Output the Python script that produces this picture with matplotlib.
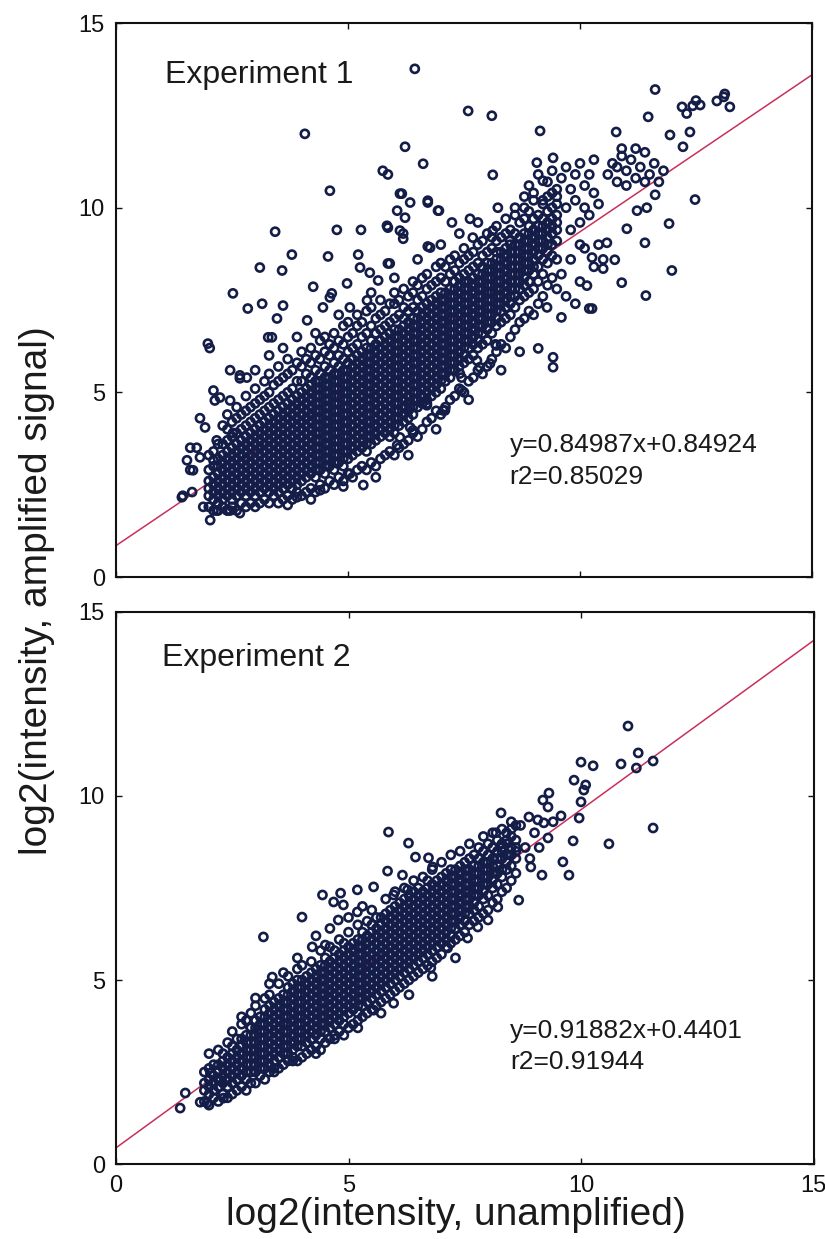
import matplotlib
matplotlib.use("Agg")
import matplotlib.pyplot as plt
import numpy as np

plt.rcParams['font.family'] = ['Liberation Sans', 'DejaVu Sans']

# fitted lines (values printed on the chart)
fit1 = (0.84987, 0.84924, 0.85029)
fit2 = (0.91882, 0.4401, 0.91944)
panel_titles = ["Experiment 1", "Experiment 2"]
ticks = [0, 5, 10, 15]

# experiment 1: dense core, one column per line -> "x: y y y ..."
exp1_core = """
2.0: 1.9 2.2 2.4 2.6 2.9 3.3
2.1: 1.8 2.1 2.3 2.5 2.7 3.0 3.4
2.2: 1.8 2.0 2.2 2.4 2.6 2.8 3.0 3.2 3.6
2.3: 1.9 2.1 2.3 2.5 2.7 2.9 3.1 3.3 3.6 4.1
2.4: 1.8 2.2 2.4 2.6 2.8 3.0 3.2 3.4 3.7 4.0 4.4
2.5: 1.9 2.1 2.3 2.5 2.7 2.9 3.1 3.3 3.5 3.8 4.2
2.6: 1.8 2.2 2.4 2.6 2.8 3.0 3.2 3.4 3.6 3.9 4.3 4.6
2.7: 2.0 2.3 2.5 2.7 2.9 3.1 3.3 3.5 3.7 4.0 4.4
2.8: 1.9 2.2 2.4 2.6 2.8 3.0 3.2 3.4 3.6 3.8 4.1 4.5 4.9
2.9: 2.0 2.3 2.5 2.7 2.9 3.1 3.3 3.5 3.7 3.9 4.2 4.6
3.0: 1.9 2.2 2.4 2.6 2.8 3.0 3.2 3.4 3.6 3.8 4.0 4.3 4.7 5.1
3.1: 2.0 2.3 2.5 2.7 2.9 3.1 3.3 3.5 3.7 3.9 4.1 4.4 4.8
3.2: 2.1 2.4 2.6 2.8 3.0 3.2 3.4 3.6 3.8 4.0 4.2 4.5 4.9 5.3
3.3: 2.0 2.3 2.5 2.7 2.9 3.1 3.3 3.5 3.7 3.9 4.1 4.3 4.6 5.0 5.5
3.4: 2.2 2.4 2.6 2.8 3.0 3.2 3.4 3.6 3.8 4.0 4.2 4.4 4.7 5.2
3.5: 2.0 2.3 2.5 2.7 2.9 3.1 3.3 3.5 3.7 3.9 4.1 4.3 4.5 4.8 5.3 5.7
3.6: 2.1 2.4 2.6 2.8 3.0 3.2 3.4 3.6 3.8 4.0 4.2 4.4 4.6 4.9 5.4
3.7: 2.2 2.5 2.7 2.9 3.1 3.3 3.5 3.7 3.9 4.1 4.3 4.5 4.7 5.0 5.5 5.9
3.8: 2.1 2.4 2.6 2.8 3.0 3.2 3.4 3.6 3.8 4.0 4.2 4.4 4.6 4.8 5.1 5.6
3.9: 2.3 2.5 2.7 2.9 3.1 3.3 3.5 3.7 3.9 4.1 4.3 4.5 4.7 4.9 5.3 5.8
4.0: 2.2 2.6 2.8 3.0 3.2 3.4 3.6 3.8 4.0 4.2 4.4 4.6 4.8 5.0 5.3 5.7 6.1
4.1: 2.3 2.7 2.9 3.1 3.3 3.5 3.7 3.9 4.1 4.3 4.5 4.7 4.9 5.1 5.5 5.9
4.2: 2.4 2.8 3.0 3.2 3.4 3.6 3.8 4.0 4.2 4.4 4.6 4.8 5.0 5.2 5.4 5.8 6.2
4.3: 2.3 2.7 2.9 3.1 3.3 3.5 3.7 3.9 4.1 4.3 4.5 4.7 4.9 5.1 5.3 5.6 6.0
4.4: 2.5 2.9 3.1 3.3 3.5 3.7 3.9 4.1 4.3 4.5 4.7 4.9 5.1 5.3 5.5 5.9 6.4
4.5: 2.4 2.8 3.0 3.2 3.4 3.6 3.8 4.0 4.2 4.4 4.6 4.8 5.0 5.2 5.4 5.7 6.1 6.5
4.6: 2.6 3.0 3.2 3.4 3.6 3.8 4.0 4.2 4.4 4.6 4.8 5.0 5.2 5.4 5.6 6.0 6.3
4.7: 2.5 2.9 3.1 3.3 3.5 3.7 3.9 4.1 4.3 4.5 4.7 4.9 5.1 5.3 5.5 5.8 6.2 6.6
4.8: 2.7 3.1 3.3 3.5 3.7 3.9 4.1 4.3 4.5 4.7 4.9 5.1 5.3 5.5 5.7 6.0 6.4
4.9: 2.6 3.0 3.2 3.4 3.6 3.8 4.0 4.2 4.4 4.6 4.8 5.0 5.2 5.4 5.6 5.9 6.3 6.8
5.0: 2.8 3.2 3.4 3.6 3.8 4.0 4.2 4.4 4.6 4.8 5.0 5.2 5.4 5.6 5.8 6.1 6.5 6.9
5.1: 2.7 3.3 3.5 3.7 3.9 4.1 4.3 4.5 4.7 4.9 5.1 5.3 5.5 5.7 5.9 6.2 6.6
5.2: 2.9 3.4 3.6 3.8 4.0 4.2 4.4 4.6 4.8 5.0 5.2 5.4 5.6 5.8 6.0 6.3 6.8 7.1
5.3: 3.0 3.5 3.7 3.9 4.1 4.3 4.5 4.7 4.9 5.1 5.3 5.5 5.7 5.9 6.1 6.5 6.9
5.4: 2.9 3.4 3.6 3.8 4.0 4.2 4.4 4.6 4.8 5.0 5.2 5.4 5.6 5.8 6.0 6.2 6.6 7.2
5.5: 3.1 3.6 3.8 4.0 4.2 4.4 4.6 4.8 5.0 5.2 5.4 5.6 5.8 6.0 6.2 6.4 6.8 7.3
5.6: 3.0 3.7 3.9 4.1 4.3 4.5 4.7 4.9 5.1 5.3 5.5 5.7 5.9 6.1 6.3 6.6 7.0
5.7: 3.2 3.8 4.0 4.2 4.4 4.6 4.8 5.0 5.2 5.4 5.6 5.8 6.0 6.2 6.4 6.7 7.1 7.5
5.8: 3.3 3.9 4.1 4.3 4.5 4.7 4.9 5.1 5.3 5.5 5.7 5.9 6.1 6.3 6.5 6.8 7.2
5.9: 3.4 3.8 4.0 4.2 4.4 4.6 4.8 5.0 5.2 5.4 5.6 5.8 6.0 6.2 6.4 6.6 6.9 7.4
6.0: 3.3 3.9 4.1 4.3 4.5 4.7 4.9 5.1 5.3 5.5 5.7 5.9 6.1 6.3 6.5 6.7 7.0 7.4 7.7
6.1: 3.5 4.1 4.3 4.5 4.7 4.9 5.1 5.3 5.5 5.7 5.9 6.1 6.3 6.5 6.7 7.1 7.5
6.2: 3.6 4.2 4.4 4.6 4.8 5.0 5.2 5.4 5.6 5.8 6.0 6.2 6.4 6.6 6.8 7.0 7.3 7.8
6.3: 3.7 4.3 4.5 4.7 4.9 5.1 5.3 5.5 5.7 5.9 6.1 6.3 6.5 6.7 6.9 7.2 7.6
6.4: 3.9 4.4 4.6 4.8 5.0 5.2 5.4 5.6 5.8 6.0 6.2 6.4 6.6 6.8 7.0 7.3 7.7 8.0
6.5: 3.8 4.6 4.8 5.0 5.2 5.4 5.6 5.8 6.0 6.2 6.4 6.6 6.8 7.0 7.2 7.5 7.9
6.6: 4.0 4.7 4.9 5.1 5.3 5.5 5.7 5.9 6.1 6.3 6.5 6.7 6.9 7.1 7.3 7.6 8.1
6.7: 4.2 4.8 5.0 5.2 5.4 5.6 5.8 6.0 6.2 6.4 6.6 6.8 7.0 7.2 7.4 7.8 8.2
6.8: 4.3 4.9 5.1 5.3 5.5 5.7 5.9 6.1 6.3 6.5 6.7 6.9 7.1 7.3 7.5 7.9
6.9: 4.5 5.0 5.2 5.4 5.6 5.8 6.0 6.2 6.4 6.6 6.8 7.0 7.2 7.4 7.6 8.0 8.4
7.0: 4.4 5.1 5.3 5.5 5.7 5.9 6.1 6.3 6.5 6.7 6.9 7.1 7.3 7.5 7.7 8.1 8.5
7.1: 4.6 5.3 5.5 5.7 5.9 6.1 6.3 6.5 6.7 6.9 7.1 7.3 7.5 7.7 8.0 8.4
7.2: 4.8 5.4 5.6 5.8 6.0 6.2 6.4 6.6 6.8 7.0 7.2 7.4 7.6 7.8 8.2 8.6
7.3: 4.9 5.6 5.8 6.0 6.2 6.4 6.6 6.8 7.0 7.2 7.4 7.6 7.8 8.0 8.3 8.7
7.4: 5.1 5.7 5.9 6.1 6.3 6.5 6.7 6.9 7.1 7.3 7.5 7.7 7.9 8.1 8.5
7.5: 5.0 5.8 6.0 6.2 6.4 6.6 6.8 7.0 7.2 7.4 7.6 7.8 8.0 8.2 8.6 8.9
7.6: 5.3 5.9 6.2 6.4 6.6 6.8 7.0 7.2 7.4 7.6 7.8 8.0 8.3 8.7
7.7: 5.4 6.0 6.3 6.5 6.7 6.9 7.1 7.3 7.5 7.7 7.9 8.1 8.4 8.8
7.8: 5.6 6.2 6.4 6.6 6.8 7.0 7.2 7.4 7.6 7.8 8.0 8.2 8.5 9.0
7.9: 5.5 6.3 6.6 6.8 7.0 7.2 7.4 7.6 7.8 8.0 8.2 8.4 8.7 9.1
8.0: 5.7 6.4 6.7 6.9 7.1 7.3 7.5 7.7 7.9 8.1 8.3 8.5 8.8 9.3
8.1: 5.9 6.6 6.9 7.1 7.3 7.5 7.7 7.9 8.1 8.3 8.5 8.9 9.2
8.2: 6.1 6.8 7.0 7.2 7.4 7.6 7.8 8.0 8.2 8.4 8.6 8.8 9.1 9.5
8.3: 6.3 6.9 7.2 7.4 7.6 7.8 8.0 8.2 8.4 8.6 8.8 9.2
8.4: 6.2 7.0 7.3 7.5 7.7 7.9 8.1 8.3 8.5 8.7 8.9 9.3 9.7
8.5: 6.5 7.1 7.4 7.6 7.8 8.0 8.2 8.4 8.6 8.8 9.0 9.4
8.6: 6.7 7.3 7.6 7.8 8.0 8.2 8.4 8.6 8.8 9.0 9.3 9.8
8.7: 6.9 7.5 7.8 8.0 8.2 8.4 8.6 8.8 9.0 9.2 9.6
8.8: 7.0 7.6 7.9 8.1 8.3 8.5 8.7 8.9 9.1 9.3 9.7 10.0
8.9: 7.2 7.7 8.0 8.3 8.5 8.7 8.9 9.1 9.3 9.5 9.9
9.0: 7.1 7.8 8.2 8.4 8.6 8.8 9.0 9.2 9.4 9.7 10.2
9.1: 7.4 8.0 8.4 8.7 8.9 9.1 9.3 9.5 9.8
9.2: 7.6 8.2 8.6 8.9 9.1 9.3 9.5 9.7 10.1
9.3: 7.9 8.5 8.8 9.0 9.2 9.4 9.6 9.9 10.3
9.4: 8.1 8.7 9.0 9.3 9.5 9.7 10.0 10.4
9.5: 7.8 8.6 9.1 9.4 9.6 9.8 10.1 10.5
"""

# experiment 1: scattered points around the core, "x,y" pairs
exp1_scatter = """
4.07,12.0 6.44,13.76 6.23,11.65 5.75,11.0 5.86,10.9 4.61,10.46 6.16,10.38 6.06,9.92
6.23,9.73 5.86,9.46 6.19,9.3 3.43,9.35 4.76,9.4 5.28,9.4 3.79,8.73 4.57,8.68
5.22,8.73 3.10,8.38 3.58,8.3 4.25,7.86 2.52,7.68 2.84,7.27 3.15,7.4 3.6,7.35
4.65,7.68 4.98,7.95 5.86,8.49 7.59,12.62 8.10,12.49 9.14,12.08 11.62,13.2 11.47,12.46
12.2,12.73 12.43,12.76 12.59,12.78 12.95,12.89 13.12,13.08 13.23,12.73 10.78,12.05 11.94,11.97
12.37,12.05 12.22,11.65 6.62,11.19 9.07,11.22 9.42,11.35 8.12,10.89 9.2,10.73 12.48,10.22
11.62,10.35 11.92,9.57 11.4,9.05 11.98,8.3 11.42,7.62 10.9,7.97 10.26,7.27 10.15,7.89
10.26,8.65 10.75,8.59 10.5,8.35 10.58,9.05 11.01,9.43 11.23,9.92 11.44,10.0 6.72,10.19
6.96,9.92 5.84,9.51 6.19,9.16 6.72,8.95 3.47,7.0 4.12,6.95 4.61,7.57 4.46,7.3
5.26,8.38 5.47,8.24 5.65,8.03 5.9,8.49 5.04,7.3 5.41,7.49 3.28,6.49 1.98,6.32
2.02,6.2 1.42,2.16 1.64,2.3 1.53,3.16 1.6,2.9 1.81,4.3 1.88,1.9 2.03,1.54
2.17,1.8 2.46,1.8 1.74,3.5 1.81,3.24 2.1,3.16 2.24,4.86 2.1,5.05 2.46,5.6
2.67,5.46 2.82,5.4 2.46,4.78 1.92,4.05 2.17,3.7 2.52,3.9 3.36,6.49 2.67,5.38
2.13,4.78 1.6,3.5 1.66,2.89 1.44,2.2 5.33,2.49 5.04,2.8 4.76,3.08 4.4,2.35
3.9,2.16 6.06,3.57 6.4,3.97 6.7,4.7 7.09,4.51 6.34,4.59 2.39,1.81 2.67,1.73
6.7,4.65 7.45,5.05 7.45,5.4 8.06,5.78 8.2,6.27 9.1,6.19 9.42,5.68 9.42,5.95
9.29,7.3 9.6,7.03 10.2,7.27 7.78,5.86 7.84,5.68 8.18,6.3 7.41,5.51 6.49,4.78
6.12,3.78 6.34,4.05 7.05,4.51 6.12,10.38 6.34,10.14 6.72,10.14 6.94,9.92 7.24,9.6
7.63,9.7 7.8,9.6 8.23,10.0 8.49,9.1 6.77,8.92 6.12,9.38 8.12,9.38 7.69,9.19
12.3,12.55 12.5,12.9 13.1,13.0 8.6,10.0 8.8,10.3 8.9,10.6 9.0,10.4 9.1,10.9
9.2,10.2 9.3,10.7 9.4,11.0 9.5,10.3 9.6,10.8 9.7,11.1 9.8,10.5 9.9,10.9
10.0,11.2 10.1,10.6 10.2,10.9 10.3,11.3 9.7,10.0 9.9,10.2 10.1,10.0 10.3,10.4
10.0,9.6 10.2,9.8 9.8,9.4 10.4,10.1 10.6,10.9 10.7,11.2 10.8,10.7 10.9,11.4
11.0,11.0 11.1,11.3 11.2,10.8 11.3,11.1 11.4,11.5 11.5,10.9 11.6,11.2 10.9,11.6
11.2,11.6 10.8,11.1 11.0,10.6 11.4,10.7 11.7,10.7 11.8,11.0 9.6,8.2 9.8,8.6
10.0,8.0 10.1,8.9 10.3,8.4 9.7,7.6 9.9,7.4 10.4,9.0 10.5,8.6 10.0,9.0
3.0,5.6 3.3,6.0 3.6,6.2 3.9,6.5 4.3,6.6 4.8,7.1 5.5,7.7 6.0,8.1 6.5,8.6 7.0,9.0
7.4,9.3 3.7,1.95 4.2,2.1 4.9,2.45 5.6,2.7 6.3,3.3 6.9,4.0 7.6,4.8 8.3,5.6 8.7,6.1
"""

# experiment 2: dense core, one column per line -> "x: y y y ..."
exp2_core = """
1.9: 1.7 2.0 2.2 2.5
2.0: 1.6 1.9 2.1 2.3 2.6 3.0
2.1: 1.8 2.0 2.2 2.4 2.7
2.2: 1.7 2.1 2.3 2.5 2.7 3.1
2.3: 1.9 2.2 2.4 2.6 2.8 3.0
2.4: 1.8 2.1 2.3 2.5 2.7 2.9 3.3
2.5: 1.9 2.2 2.4 2.6 2.8 3.0 3.2 3.6
2.6: 2.0 2.3 2.5 2.7 2.9 3.1 3.4
2.7: 2.1 2.4 2.6 2.8 3.0 3.2 3.4 3.8
2.8: 2.0 2.3 2.5 2.7 2.9 3.1 3.3 3.5 3.9
2.9: 2.2 2.5 2.7 2.9 3.1 3.3 3.5 3.7 4.1
3.0: 2.2 2.5 2.7 2.9 3.1 3.3 3.5 3.7 3.9 4.3
3.1: 2.4 2.6 2.8 3.0 3.2 3.4 3.6 3.8 4.0
3.2: 2.3 2.6 2.8 3.0 3.2 3.4 3.6 3.8 4.0 4.2 4.5
3.3: 2.5 2.7 2.9 3.1 3.3 3.5 3.7 3.9 4.1 4.3 4.6
3.4: 2.6 2.8 3.0 3.2 3.4 3.6 3.8 4.0 4.2 4.4
3.5: 2.6 2.9 3.1 3.3 3.5 3.7 3.9 4.1 4.3 4.5 4.9
3.6: 2.7 3.0 3.2 3.4 3.6 3.8 4.0 4.2 4.4 4.6
3.7: 2.8 3.0 3.2 3.4 3.6 3.8 4.0 4.2 4.4 4.6 4.8 5.1
3.8: 2.9 3.1 3.3 3.5 3.7 3.9 4.1 4.3 4.5 4.7 4.9
3.9: 2.8 3.2 3.4 3.6 3.8 4.0 4.2 4.4 4.6 4.8 5.0 5.3
4.0: 2.9 3.2 3.4 3.6 3.8 4.0 4.2 4.4 4.6 4.8 5.0 5.4
4.1: 3.0 3.3 3.5 3.7 3.9 4.1 4.3 4.5 4.7 4.9 5.1
4.2: 3.1 3.4 3.6 3.8 4.0 4.2 4.4 4.6 4.8 5.0 5.2 5.5
4.3: 3.2 3.5 3.7 3.9 4.1 4.3 4.5 4.7 4.9 5.1 5.3
4.4: 3.1 3.4 3.6 3.8 4.0 4.2 4.4 4.6 4.8 5.0 5.2 5.4 5.8
4.5: 3.3 3.6 3.8 4.0 4.2 4.4 4.6 4.8 5.0 5.2 5.4 5.6
4.6: 3.4 3.7 3.9 4.1 4.3 4.5 4.7 4.9 5.1 5.3 5.5 5.9
4.7: 3.5 3.8 4.0 4.2 4.4 4.6 4.8 5.0 5.2 5.4 5.6 5.8
4.8: 3.6 3.9 4.1 4.3 4.5 4.7 4.9 5.1 5.3 5.5 5.7 6.1
4.9: 3.5 3.8 4.0 4.2 4.4 4.6 4.8 5.0 5.2 5.4 5.6 5.8 6.0
5.0: 3.7 4.1 4.3 4.5 4.7 4.9 5.1 5.3 5.5 5.7 5.9 6.3
5.1: 3.8 4.2 4.4 4.6 4.8 5.0 5.2 5.4 5.6 5.8 6.0
5.2: 3.9 4.1 4.3 4.5 4.7 4.9 5.1 5.3 5.5 5.7 5.9 6.1 6.5
5.3: 4.0 4.3 4.5 4.7 4.9 5.1 5.3 5.5 5.7 5.9 6.1 6.3
5.4: 4.1 4.4 4.6 4.8 5.0 5.2 5.4 5.6 5.8 6.0 6.2 6.6
5.5: 4.2 4.5 4.7 4.9 5.1 5.3 5.5 5.7 5.9 6.1 6.3 6.5 6.9
5.6: 4.3 4.6 4.8 5.0 5.2 5.4 5.6 5.8 6.0 6.2 6.4 6.7
5.7: 4.4 4.7 4.9 5.1 5.3 5.5 5.7 5.9 6.1 6.3 6.5 6.7
5.8: 4.5 4.8 5.0 5.2 5.4 5.6 5.8 6.0 6.2 6.4 6.6 6.8 7.2
5.9: 4.6 4.9 5.1 5.3 5.5 5.7 5.9 6.1 6.3 6.5 6.7 6.9
6.0: 4.7 5.0 5.2 5.4 5.6 5.8 6.0 6.2 6.4 6.6 6.8 7.0 7.4
6.1: 4.8 5.1 5.3 5.5 5.7 5.9 6.1 6.3 6.5 6.7 6.9 7.1
6.2: 4.9 5.2 5.4 5.6 5.8 6.0 6.2 6.4 6.6 6.8 7.0 7.2 7.5
6.3: 5.0 5.3 5.5 5.7 5.9 6.1 6.3 6.5 6.7 6.9 7.1 7.3
6.4: 5.1 5.4 5.6 5.8 6.0 6.2 6.4 6.6 6.8 7.0 7.2 7.4 7.7
6.5: 5.2 5.5 5.7 5.9 6.1 6.3 6.5 6.7 6.9 7.1 7.3 7.5
6.6: 5.3 5.6 5.8 6.0 6.2 6.4 6.6 6.8 7.0 7.2 7.4 7.8
6.7: 5.4 5.7 5.9 6.1 6.3 6.5 6.7 6.9 7.1 7.3 7.5 7.7
6.8: 5.5 5.8 6.0 6.2 6.4 6.6 6.8 7.0 7.2 7.4 7.6 8.0
6.9: 5.6 5.9 6.1 6.3 6.5 6.7 6.9 7.1 7.3 7.5 7.7
7.0: 5.7 6.0 6.2 6.4 6.6 6.8 7.0 7.2 7.4 7.6 7.8 8.2
7.1: 5.9 6.1 6.3 6.5 6.7 6.9 7.1 7.3 7.5 7.7 7.9
7.2: 6.0 6.2 6.4 6.6 6.8 7.0 7.2 7.4 7.6 7.8 8.0 8.4
7.3: 6.1 6.4 6.6 6.8 7.0 7.2 7.4 7.6 7.8 8.0
7.4: 6.2 6.5 6.7 6.9 7.1 7.3 7.5 7.7 7.9 8.1 8.5
7.5: 6.3 6.6 6.8 7.0 7.2 7.4 7.6 7.8 8.0 8.2
7.6: 6.5 6.8 7.0 7.2 7.4 7.6 7.8 8.0 8.3 8.7
7.7: 6.6 6.9 7.1 7.3 7.5 7.7 7.9 8.1 8.4
7.8: 6.7 7.0 7.3 7.5 7.7 7.9 8.1 8.3 8.6
7.9: 6.8 7.2 7.4 7.6 7.8 8.0 8.2 8.5 8.9
8.0: 6.9 7.3 7.6 7.8 8.0 8.2 8.4 8.7
8.1: 7.1 7.5 7.7 7.9 8.1 8.3 8.6 9.0
8.2: 7.2 7.6 7.9 8.1 8.3 8.5 8.8
8.3: 7.4 7.8 8.0 8.3 8.5 8.7 9.1
8.4: 7.5 8.0 8.2 8.4 8.7 9.0
8.5: 7.7 8.1 8.4 8.6 8.9 9.3
8.6: 7.9 8.3 8.6 8.8 9.2
"""

# experiment 2: scattered points around the core, "x,y" pairs
exp2_scatter = """
5.86,9.02 6.29,8.72 6.44,8.34 6.72,8.32 5.84,7.96 6.16,7.85 6.81,8.07 5.54,7.53
5.19,7.45 4.83,7.36 4.44,7.31 4.0,6.71 4.68,7.12 4.89,7.04 5.97,7.31 6.27,7.45
4.78,6.63 5.19,6.85 3.17,6.17 3.36,5.08 3.0,4.51 4.22,5.9 4.5,5.95 5.54,4.18
5.97,4.37 6.77,5.33 7.13,5.87 7.56,6.14 7.78,6.44 8.0,6.63 8.21,6.98 8.66,7.17
8.92,8.07 9.16,7.85 9.61,8.21 9.74,7.85 9.29,8.86 9.83,8.78 10.6,8.7 11.55,9.13
9.57,9.46 8.88,9.43 9.07,9.35 9.2,9.27 8.28,9.54 9.31,10.08 9.18,9.89 9.29,9.7
9.96,9.4 10.0,9.84 9.85,10.43 10.1,10.3 10.06,10.16 10.0,10.92 10.26,10.82 10.86,10.87
11.19,10.76 11.55,10.95 11.23,11.17 11.01,11.9 1.38,1.52 1.49,1.93 1.81,1.68 1.96,1.66
2.31,1.79 2.03,2.47 2.24,2.28 8.17,9.0 8.4,8.8 8.6,8.5 8.3,8.6 8.5,9.1
8.8,8.6 9.0,9.0 8.7,9.2 9.4,9.3 2.89,3.72 2.7,4.0 3.3,4.9 3.6,5.2
3.9,5.6 4.3,6.2 4.6,6.4 5.0,6.7 5.3,7.0 3.4,2.5 3.8,2.8 4.3,3.0
4.7,3.4 5.2,3.7 5.7,4.1 6.3,4.6 6.8,5.1 7.3,5.6 8.9,8.3 9.1,8.6
"""


def parse_columns(text):
    xs, ys = [], []
    for line in text.strip().splitlines():
        x, vals = line.split(':')
        for v in vals.split():
            xs.append(float(x))
            ys.append(float(v))
    return np.array(xs), np.array(ys)


def parse_pairs(text):
    pts = [p.split(',') for p in text.split()]
    return np.array([float(p[0]) for p in pts]), np.array([float(p[1]) for p in pts])


marker_color = '#141d48'
line_color = '#c8305a'
text_color = '#1a1a1a'

fig = plt.figure(figsize=(8.25, 12.39), dpi=100)
ax1 = fig.add_axes([0.1406, 0.5343, 0.8436, 0.4471])
ax2 = fig.add_axes([0.1406, 0.0605, 0.8455, 0.4456])

panels = [(ax1, exp1_core, exp1_scatter, fit1, panel_titles[0], (1.05, 13.6), 3.57),
          (ax2, exp2_core, exp2_scatter, fit2, panel_titles[1], (0.98, 13.75), 3.62)]

fit_x = np.array([0.0, 15.0])

for ax, core, extra, fit, title, title_pos, eq_y in panels:
    cx, cy = parse_columns(core)
    ex, ey = parse_pairs(extra)
    x = np.concatenate([cx, ex])
    y = np.concatenate([cy, ey])
    ax.scatter(x, y, s=34, facecolors='none', edgecolors=marker_color,
               linewidths=1.9, zorder=2)

    # regression line, under the points as in the original
    slope, intercept, r2 = fit
    ax.plot(fit_x, slope * fit_x + intercept, color=line_color, lw=1.1, zorder=1)

    ax.set_xlim(0, 15)
    ax.set_ylim(0, 15)
    ax.set_xticks(ticks)
    ax.set_yticks(ticks)
    ax.tick_params(direction='in', top=True, right=True, length=4, width=1,
                   labelsize=17, pad=8, colors='#111111')
    for sp in ax.spines.values():
        sp.set_linewidth(1.5)
        sp.set_color('#111111')

    ax.text(title_pos[0], title_pos[1], title,
            fontsize=23, color=text_color, va='center', ha='left')
    ax.text(8.48, eq_y, "y=%gx+%g" % (slope, intercept), fontsize=19,
            color=text_color, va='center', ha='left')
    ax.text(8.48, eq_y - 0.85, "r2=%g" % r2, fontsize=19,
            color=text_color, va='center', ha='left')

ax1.tick_params(labelbottom=False)

fig.text(0.045, 0.523, "log2(intensity, amplified signal)", rotation=90,
         fontsize=28, color=text_color, ha='center', va='center')
fig.text(0.553, 0.011, "log2(intensity, unamplified)",
         fontsize=28, color=text_color, ha='center', va='baseline')

fig.savefig("out.png", dpi=100)
